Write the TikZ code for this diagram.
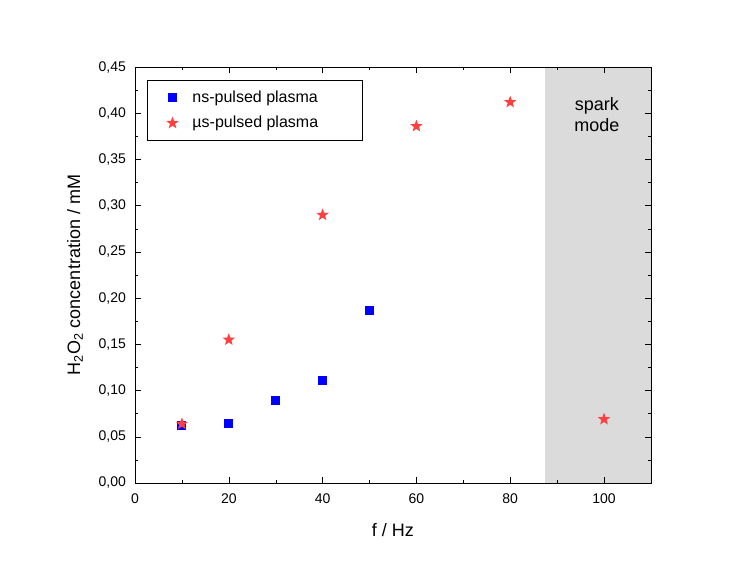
\documentclass[tikz,border=0pt]{standalone}
\usepackage{fontspec}
\setmainfont{Liberation Sans}
\usetikzlibrary{shapes.geometric}
\tikzset{
  nsmark/.style={rectangle, fill=blue, minimum size=9pt, inner sep=0pt},
  usmark/.style={star, star points=5, star point ratio=2.4, fill=red!75!white, minimum size=13pt, inner sep=0pt},
  ticklbl/.style={font=\fontsize{14}{16}\selectfont},
  axislbl/.style={font=\fontsize{18}{21}\selectfont}
}
\begin{document}
\begin{tikzpicture}
  \useasboundingbox (0,0) rectangle (756pt,579pt);
  \begin{scope}[shift={(135pt,96pt)}, x=4.69pt, y=924.4pt]
    % spark region
    \fill[black!14] (87.5,0) rectangle (110,0.45);
    % frame and ticks
    \draw[line width=0.8pt] (0,0) rectangle (110,0.45);
    \foreach \t in {0,20,...,100} {
      \draw (\t,0) -- ++(0,6pt) (\t,0.45) -- ++(0,-6pt);
      \node[ticklbl, anchor=north] (xt\t) at (\t,-0.008) {\t};
    }
    \foreach \t in {10,30,...,110}
      \draw (\t,0) -- ++(0,3pt) (\t,0.45) -- ++(0,-3pt);
    \foreach \v/\l in {0/{0,00}, 0.05/{0,05}, 0.1/{0,10}, 0.15/{0,15}, 0.2/{0,20}, 0.25/{0,25}, 0.3/{0,30}, 0.35/{0,35}, 0.4/{0,40}, 0.45/{0,45}} {
      \draw (0,\v) -- ++(6pt,0) (110,\v) -- ++(-6pt,0);
      \node[ticklbl, anchor=east] at (-1.2,\v) {\l};
    }
    \foreach \v in {0.025,0.075,...,0.43}
      \draw (0,\v) -- ++(3pt,0) (110,\v) -- ++(-3pt,0);
    % axis labels
    \node[axislbl] (xlabel) at (55,-0.051) {f / Hz};
    \node[axislbl, rotate=90] (ylabel) at (-12.8,0.225) {H\textsubscript{2}O\textsubscript{2} concentration / mM};
    % data
    \node[nsmark] (ns10) at (10,0.062) {};
    \node[nsmark] (ns20) at (20,0.064) {};
    \node[nsmark] (ns30) at (30,0.089) {};
    \node[nsmark] (ns40) at (40,0.111) {};
    \node[nsmark] (ns50) at (50,0.187) {};
    \node[usmark] (us10) at (10,0.064) {};
    \node[usmark] (us20) at (20,0.155) {};
    \node[usmark] (us40) at (40,0.290) {};
    \node[usmark] (us60) at (60,0.386) {};
    \node[usmark] (us80) at (80,0.412) {};
    \node[usmark] (us100) at (100,0.069) {};
    % spark label
    \node[axislbl, align=center] (spark) at (98.5,0.399) {spark\\mode};
    % legend
    \draw[line width=0.5pt] (2.6,0.371) rectangle (48.4,0.436);
    \node[nsmark] (legns) at (8,0.4165) {};
    \node[usmark] (legus) at (8,0.3894) {};
    \node[font=\fontsize{16}{18}\selectfont, anchor=west] (legnstxt) at (11.5,0.4165) {ns-pulsed plasma};
    \node[font=\fontsize{16}{18}\selectfont, anchor=west] (legustxt) at (11.5,0.3894) {µs-pulsed plasma};
  \end{scope}
\end{tikzpicture}
\end{document}
